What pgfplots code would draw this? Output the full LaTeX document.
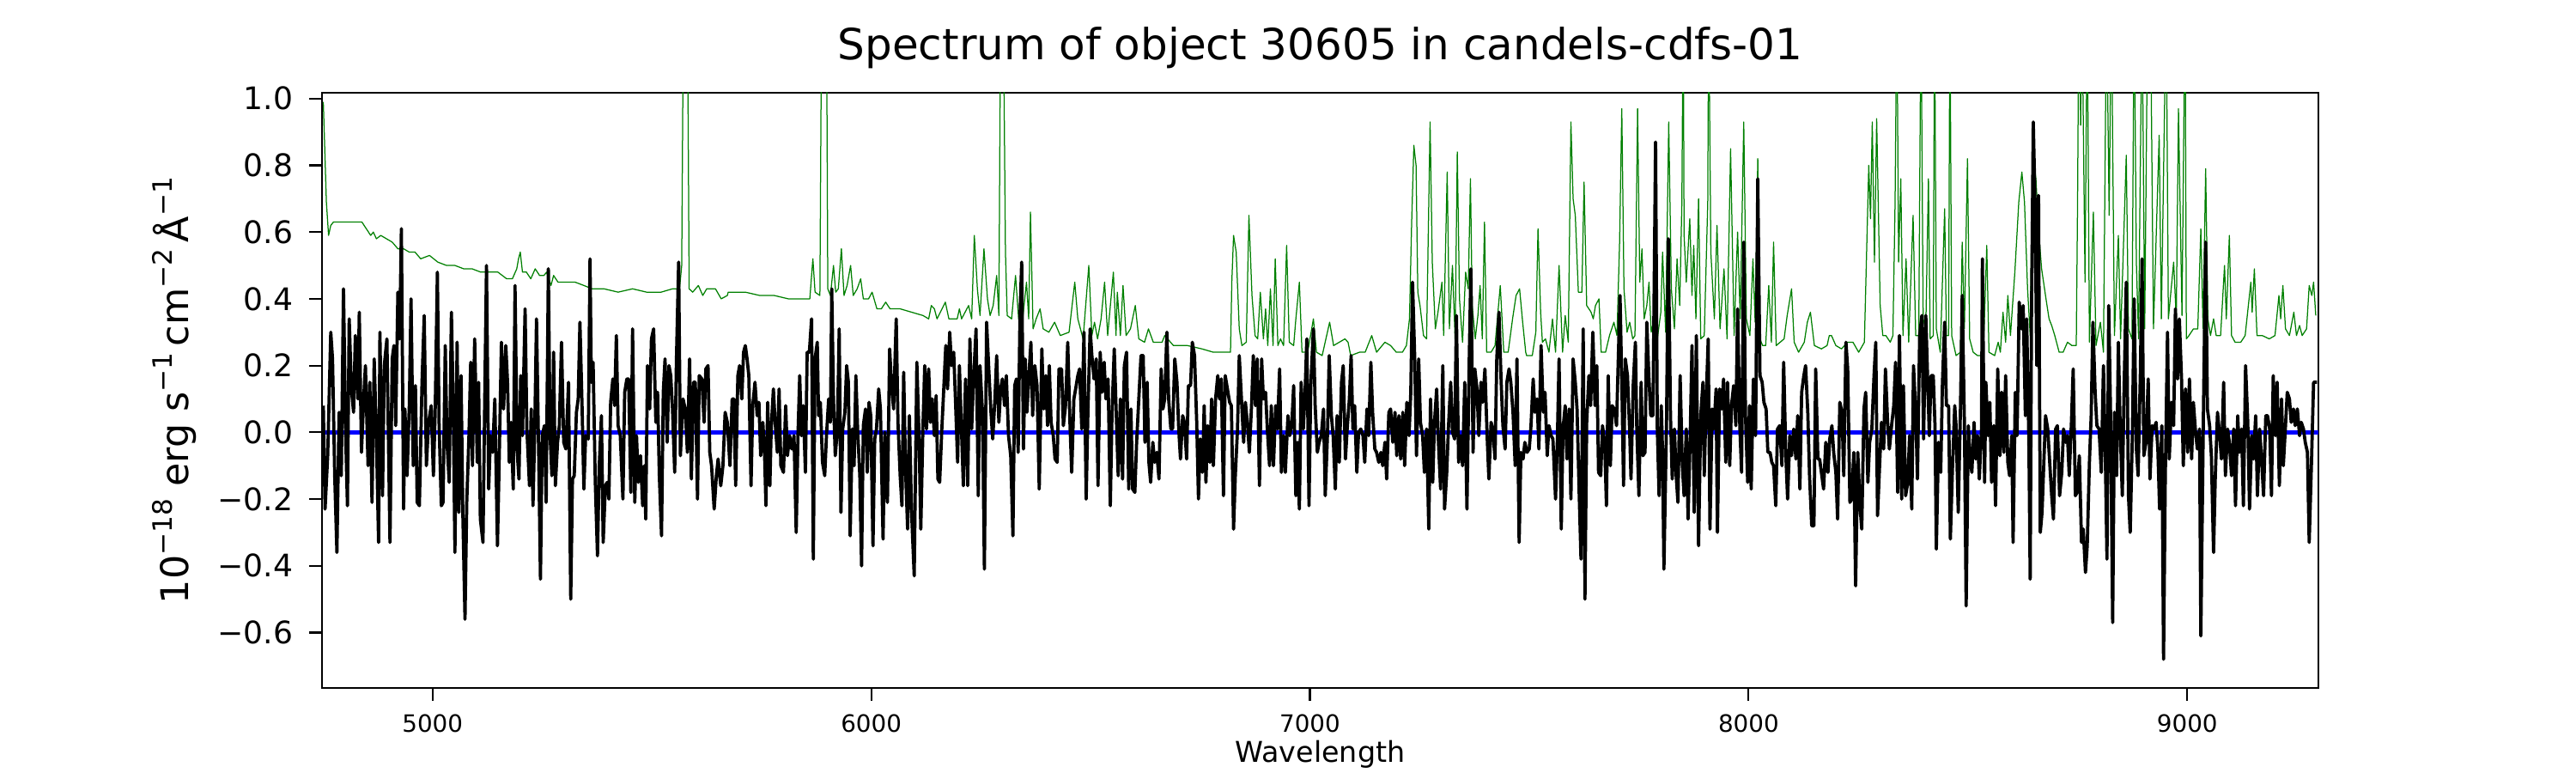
\documentclass[border=0pt]{standalone}
\usepackage{fontspec}
\setmainfont{DejaVu Sans}
\usepackage{pgfplots}
\usepackage{pgfplotstable}
\pgfplotsset{compat=1.18}
\definecolor{mplgreen}{RGB}{0,128,0}
\definecolor{mplblue}{RGB}{0,0,255}
\newcommand\sups[1]{\raisebox{0.42em}{\fontsize{11.2}{13}\selectfont #1}}
\pgfplotstableread{
x y
4751 0.08
4755 -0.23
4761 -0.07
4768 0.30
4772 0.22
4777 -0.13
4782 -0.36
4787 0.06
4792 -0.13
4797 0.43
4802 -0.01
4806 -0.22
4810 0.34
4815 0.13
4820 0.06
4824 0.29
4830 0.10
4833 0.36
4838 -0.06
4843 0.10
4847 0.20
4853 -0.10
4857 0.15
4862 -0.21
4867 0.22
4872 -0.01
4877 -0.33
4880 0.30
4886 -0.19
4890 0.20
4896 0.28
4903 -0.33
4908 0.22
4912 0.26
4916 0.02
4921 0.42
4925 0.28
4929 0.61
4934 -0.23
4937 0.07
4942 -0.13
4947 0.08
4951 0.40
4956 -0.10
4961 0.14
4965 -0.21
4970 -0.22
4976 0.15
4981 0.35
4986 -0.10
4991 0.03
4997 0.08
5002 -0.13
5006 0.06
5011 0.48
5015 0.02
5020 -0.22
5024 -0.21
5029 0.26
5033 -0.03
5038 -0.15
5043 0.36
5047 0.10
5051 -0.36
5056 0.27
5060 -0.24
5065 0.17
5069 -0.24
5074 -0.56
5078 -0.21
5083 -0.01
5087 0.21
5091 -0.10
5096 0.28
5102 -0.09
5105 0.15
5109 -0.26
5115 -0.33
5119 0.10
5123 0.50
5128 -0.17
5132 -0.01
5137 -0.06
5142 0.10
5148 -0.34
5152 -0.08
5157 0.27
5162 0.07
5167 0.26
5171 0.15
5175 -0.09
5179 0.03
5184 -0.17
5188 0.44
5193 -0.06
5197 -0.14
5201 0.17
5205 -0.01
5211 0.37
5215 0.01
5221 -0.16
5225 0.07
5229 -0.22
5233 0.01
5237 0.34
5242 -0.07
5246 -0.44
5250 -0.01
5255 0.02
5259 -0.21
5264 0.49
5268 -0.01
5272 -0.13
5276 0.24
5280 -0.16
5285 -0.03
5289 0.02
5294 0.27
5299 -0.03
5304 -0.05
5310 0.15
5315 -0.50
5319 -0.14
5323 -0.13
5328 0.06
5332 0.10
5336 0.33
5341 0.07
5345 -0.17
5349 -0.01
5355 -0.02
5359 0.52
5362 0.15
5366 0.21
5371 -0.15
5376 -0.37
5380 -0.10
5385 0.05
5389 -0.33
5394 -0.16
5398 -0.15
5402 -0.20
5406 0.09
5411 0.16
5415 0.08
5419 0.29
5423 0.02
5428 -0.01
5434 -0.20
5438 0.12
5443 0.16
5447 0.16
5452 -0.18
5456 0.31
5461 -0.21
5465 -0.01
5469 -0.15
5474 -0.07
5479 -0.22
5483 -0.10
5486 -0.26
5490 0.20
5495 0.07
5499 0.28
5504 0.31
5509 0.03
5513 0.12
5517 -0.13
5522 -0.31
5526 0.12
5530 0.22
5535 -0.03
5539 0.20
5543 0.17
5547 0.07
5552 -0.12
5556 0.22
5561 0.51
5565 -0.07
5571 0.10
5576 0.07
5581 -0.06
5586 0.22
5590 -0.14
5595 0.15
5599 0.15
5604 -0.20
5608 0.17
5614 0.16
5619 0.03
5623 0.19
5628 0.20
5632 -0.06
5636 -0.10
5642 -0.23
5647 -0.13
5651 -0.08
5657 -0.16
5662 -0.10
5667 0.06
5672 0.03
5678 -0.10
5683 0.10
5687 0.10
5691 -0.16
5696 0.17
5700 0.20
5705 0.10
5709 0.24
5713 0.26
5717 0.22
5721 0.17
5726 -0.16
5730 0.08
5735 0.15
5740 0.05
5744 0.09
5748 -0.07
5753 0.03
5757 -0.07
5760 -0.22
5764 0.09
5769 -0.16
5772 0.01
5777 0.13
5781 0.03
5786 -0.06
5790 0.13
5794 -0.10
5800 -0.12
5805 0.08
5809 -0.07
5814 -0.01
5819 -0.05
5824 -0.01
5829 -0.30
5833 -0.01
5837 0.17
5841 -0.01
5845 0.08
5850 -0.12
5854 0.24
5859 0.24
5864 0.34
5868 -0.38
5872 0.22
5877 0.27
5880 0.05
5884 0.09
5889 -0.09
5894 -0.13
5898 -0.01
5903 0.10
5907 0.03
5910 0.43
5914 0.10
5918 -0.07
5923 0.01
5927 0.31
5931 -0.24
5935 0.01
5940 0.06
5944 0.20
5948 0.15
5952 -0.31
5957 0.01
5961 -0.10
5965 0.17
5969 0.01
5974 -0.13
5978 -0.40
5982 0.02
5987 0.07
5991 -0.12
5995 0.09
5999 0.05
6004 -0.34
6008 -0.02
6012 0.01
6017 0.13
6021 0.07
6027 -0.32
6031 0.00
6037 -0.21
6042 0.25
6046 0.15
6051 0.07
6057 0.34
6061 0.03
6066 -0.13
6070 -0.22
6074 0.18
6078 -0.10
6083 -0.29
6087 0.05
6092 -0.24
6098 -0.43
6104 0.21
6109 -0.01
6113 -0.29
6118 0.02
6122 0.20
6126 0.01
6131 0.19
6135 0.03
6139 0.10
6144 -0.01
6148 0.11
6152 -0.14
6156 -0.15
6161 0.01
6165 0.12
6170 0.26
6174 0.13
6179 0.30
6183 0.20
6188 0.24
6192 0.10
6197 -0.09
6201 0.20
6206 0.00
6210 -0.16
6215 0.16
6220 -0.16
6225 0.28
6229 0.01
6233 0.15
6239 0.31
6244 -0.19
6248 0.20
6254 0.05
6258 -0.41
6263 0.33
6268 0.19
6273 0.06
6277 -0.02
6282 0.10
6286 0.23
6291 0.03
6295 0.13
6299 0.16
6304 0.08
6308 0.17
6313 -0.01
6318 -0.07
6323 -0.31
6327 0.14
6331 0.16
6335 -0.06
6339 0.34
6343 0.51
6347 -0.05
6351 0.22
6355 0.06
6359 0.16
6364 0.27
6368 0.05
6373 0.20
6378 0.14
6383 -0.17
6389 0.25
6393 0.07
6398 0.17
6402 0.02
6406 0.20
6410 0.03
6415 -0.01
6419 -0.08
6424 -0.09
6428 0.19
6434 0.19
6438 0.02
6443 0.08
6448 0.27
6453 0.03
6457 -0.12
6462 0.10
6466 0.13
6471 0.17
6475 0.19
6480 0.01
6485 0.30
6490 -0.20
6494 0.06
6499 0.31
6503 0.23
6508 0.16
6513 0.22
6517 -0.16
6522 0.24
6526 0.12
6531 0.21
6535 0.10
6540 0.16
6545 -0.22
6549 0.06
6554 0.25
6558 0.08
6563 -0.13
6568 0.10
6573 -0.14
6577 0.20
6582 0.24
6587 -0.17
6592 0.07
6596 -0.17
6601 -0.18
6605 -0.03
6610 0.10
6615 0.23
6620 0.23
6624 -0.03
6629 0.15
6633 -0.09
6637 -0.15
6642 -0.03
6646 -0.09
6651 -0.06
6656 -0.14
6661 0.19
6665 0.07
6669 0.10
6674 0.30
6678 0.10
6683 0.01
6687 0.01
6692 0.22
6697 0.15
6701 0.01
6705 -0.08
6710 0.05
6714 0.03
6719 -0.08
6723 0.14
6728 0.14
6732 0.27
6737 0.23
6742 0.03
6746 -0.20
6750 -0.02
6755 -0.12
6759 0.08
6763 -0.15
6767 0.02
6772 -0.09
6776 0.10
6780 -0.10
6785 0.10
6790 0.17
6794 0.10
6798 0.16
6803 -0.19
6807 0.17
6812 0.13
6817 0.09
6821 0.08
6826 -0.29
6830 -0.13
6835 0.01
6839 0.23
6844 0.10
6849 -0.03
6853 0.09
6858 0.02
6862 -0.06
6867 0.08
6871 0.23
6876 0.08
6880 0.22
6885 -0.16
6890 0.22
6894 0.10
6899 0.12
6903 0.01
6908 -0.10
6912 0.08
6917 -0.10
6922 0.08
6926 0.01
6931 0.19
6935 -0.12
6940 -0.01
6944 -0.12
6950 0.05
6954 -0.01
6959 0.03
6963 0.14
6968 -0.19
6972 -0.03
6976 -0.23
6980 0.15
6985 0.01
6989 0.12
6993 0.28
6998 -0.22
7002 0.14
7008 0.31
7012 0.08
7017 -0.06
7021 -0.03
7026 -0.01
7031 0.07
7035 -0.19
7040 -0.01
7044 0.23
7049 0.05
7053 -0.01
7058 -0.17
7062 0.05
7067 -0.09
7072 0.15
7076 0.20
7081 -0.08
7085 0.01
7090 0.10
7094 0.23
7098 0.01
7102 0.08
7107 -0.12
7111 0.00
7116 0.01
7121 -0.01
7125 -0.09
7130 0.07
7134 -0.01
7139 0.21
7143 0.06
7148 -0.05
7152 -0.06
7157 -0.09
7162 -0.06
7166 -0.10
7171 -0.03
7175 -0.14
7180 0.06
7184 0.07
7189 -0.03
7194 0.06
7198 -0.07
7203 0.05
7207 -0.08
7212 0.06
7216 -0.10
7221 0.09
7226 -0.01
7230 0.12
7234 0.45
7239 0.22
7243 -0.07
7248 0.22
7252 0.03
7257 -0.01
7261 -0.12
7266 0.01
7271 -0.29
7275 0.10
7280 -0.15
7284 0.03
7289 0.13
7293 -0.03
7298 -0.17
7303 0.20
7307 -0.23
7312 -0.12
7316 0.02
7321 0.15
7325 0.00
7330 -0.02
7334 0.35
7339 -0.09
7344 -0.01
7348 -0.10
7353 0.15
7358 -0.23
7363 0.20
7367 0.49
7372 -0.06
7376 0.19
7381 0.13
7385 -0.01
7390 0.15
7394 0.09
7399 0.19
7404 -0.01
7408 -0.14
7413 0.03
7417 0.01
7422 -0.08
7426 0.22
7431 0.36
7436 0.15
7440 0.02
7445 -0.05
7449 0.15
7454 0.19
7458 0.15
7463 0.06
7468 -0.10
7472 0.22
7477 -0.33
7481 -0.06
7486 -0.08
7490 -0.03
7495 -0.06
7500 -0.05
7504 0.02
7509 0.16
7513 0.06
7518 0.10
7522 -0.05
7527 0.26
7532 0.06
7536 0.12
7541 -0.07
7545 0.02
7550 -0.01
7554 -0.02
7560 -0.20
7564 -0.03
7568 0.22
7573 -0.29
7577 0.01
7582 0.08
7586 -0.08
7591 0.07
7595 -0.20
7600 0.22
7605 0.15
7609 0.07
7614 -0.19
7618 -0.38
7623 0.31
7627 -0.50
7631 0.03
7636 0.17
7640 0.08
7645 0.30
7650 0.08
7654 0.20
7658 -0.12
7663 -0.13
7667 0.02
7672 -0.03
7676 -0.22
7680 0.17
7685 -0.10
7689 0.08
7694 0.07
7699 0.02
7703 0.22
7707 0.41
7712 0.08
7715 -0.16
7719 0.22
7724 0.17
7729 0.00
7732 -0.14
7737 0.14
7742 0.27
7745 0.02
7750 -0.19
7755 0.15
7759 -0.07
7764 -0.06
7768 0.33
7773 0.16
7777 0.05
7782 0.05
7788 0.87
7792 0.01
7796 -0.19
7801 0.08
7804 -0.06
7807 -0.41
7813 0.03
7817 0.58
7822 0.05
7826 -0.14
7831 0.01
7835 -0.13
7839 -0.21
7844 0.17
7849 -0.10
7853 -0.19
7858 0.01
7862 -0.26
7867 -0.01
7871 0.26
7876 -0.24
7881 0.29
7886 -0.34
7891 0.05
7896 0.15
7899 -0.13
7903 0.08
7908 0.28
7912 -0.29
7917 0.07
7921 0.01
7926 0.13
7929 -0.30
7934 0.13
7939 0.07
7943 0.16
7948 -0.09
7952 0.15
7957 -0.10
7961 0.08
7966 0.14
7971 0.02
7975 0.37
7980 0.02
7984 -0.12
7989 0.57
7993 0.05
7998 -0.15
8002 0.08
8006 -0.17
8011 0.16
8016 -0.01
8021 0.76
8026 0.17
8031 0.15
8035 0.09
8040 0.07
8044 -0.06
8049 -0.06
8053 -0.09
8057 -0.10
8062 -0.22
8066 0.01
8071 0.02
8076 -0.10
8080 0.21
8085 -0.07
8089 -0.20
8094 -0.01
8098 -0.07
8103 0.01
8108 -0.08
8112 0.05
8117 -0.17
8121 0.12
8126 0.17
8130 0.20
8135 0.06
8139 -0.13
8144 -0.28
8149 -0.28
8153 0.19
8158 -0.08
8162 -0.08
8167 -0.13
8171 -0.17
8176 -0.03
8181 -0.12
8185 -0.02
8190 0.02
8194 -0.06
8199 -0.12
8203 -0.26
8208 0.09
8213 0.06
8217 -0.13
8222 0.27
8226 0.19
8231 -0.21
8235 -0.20
8240 -0.06
8244 -0.46
8249 -0.06
8254 -0.22
8258 -0.29
8263 0.07
8267 0.12
8272 -0.15
8276 -0.03
8281 0.01
8286 0.17
8290 0.27
8294 -0.25
8299 -0.09
8303 0.03
8308 -0.05
8312 0.19
8317 0.03
8321 -0.05
8326 0.02
8331 0.08
8335 0.21
8340 -0.18
8344 0.29
8349 -0.20
8353 0.14
8358 -0.19
8363 -0.15
8367 -0.01
8372 -0.23
8376 0.20
8381 0.06
8385 -0.14
8390 0.29
8395 0.35
8399 -0.02
8404 0.35
8412 -0.01
8416 0.17
8421 0.17
8425 0.02
8428 -0.35
8433 -0.03
8438 -0.12
8442 0.15
8447 0.33
8451 0.08
8456 0.08
8460 -0.32
8465 -0.10
8470 0.08
8473 0.02
8478 -0.24
8483 0.07
8487 0.41
8492 0.03
8496 -0.52
8501 0.02
8505 -0.08
8509 -0.12
8514 0.03
8518 -0.08
8522 -0.01
8526 -0.14
8531 0.01
8533 0.52
8538 -0.15
8541 0.15
8546 -0.01
8550 0.09
8554 -0.15
8559 0.02
8563 -0.22
8568 0.19
8573 -0.07
8577 0.12
8582 -0.06
8586 0.17
8591 -0.09
8595 -0.13
8600 -0.01
8603 -0.33
8608 0.12
8612 -0.01
8617 0.39
8622 0.31
8626 0.38
8631 0.05
8634 0.34
8639 -0.03
8642 -0.44
8645 0.36
8649 0.93
8653 0.69
8657 0.20
8661 0.71
8665 -0.30
8669 -0.24
8672 -0.13
8677 0.05
8682 0.01
8686 -0.08
8691 -0.19
8695 -0.26
8700 0.01
8704 0.02
8709 -0.19
8714 -0.12
8718 0.01
8723 -0.03
8727 -0.01
8731 -0.13
8736 0.03
8740 0.19
8745 -0.19
8749 -0.18
8754 -0.07
8759 -0.33
8763 -0.29
8768 -0.42
8772 -0.34
8777 -0.09
8781 0.05
8785 0.33
8790 0.12
8794 0.02
8799 0.01
8804 -0.12
8809 0.20
8813 -0.05
8817 -0.38
8821 0.38
8825 0.07
8830 -0.57
8834 0.06
8839 -0.13
8843 0.27
8847 0.02
8852 -0.19
8856 0.13
8861 0.45
8866 -0.19
8870 -0.30
8875 0.00
8879 0.40
8884 -0.05
8888 -0.13
8893 0.17
8897 0.52
8901 -0.07
8906 -0.03
8911 0.16
8915 -0.14
8920 0.02
8924 0.01
8929 0.03
8933 -0.05
8937 -0.23
8942 0.02
8946 -0.68
8950 -0.13
8955 0.30
8959 -0.08
8964 0.09
8969 0.02
8973 0.37
8978 0.16
8982 0.34
8987 0.16
8991 -0.10
8996 0.13
9001 -0.06
9005 0.16
9010 -0.08
9014 0.09
9019 0.00
9023 -0.05
9028 0.01
9031 -0.61
9037 0.07
9042 0.57
9046 0.07
9051 0.02
9055 -0.07
9060 -0.36
9064 -0.13
9069 0.06
9074 -0.01
9078 -0.08
9083 0.15
9087 -0.13
9092 0.01
9096 -0.03
9101 -0.13
9106 0.01
9110 -0.22
9115 0.05
9119 -0.06
9124 0.01
9128 -0.22
9133 0.20
9138 0.03
9142 -0.23
9147 -0.01
9151 -0.08
9156 0.05
9160 -0.19
9165 0.01
9169 -0.07
9174 -0.19
9179 0.05
9183 0.05
9188 0.01
9192 -0.19
9196 0.17
9201 -0.01
9205 0.15
9210 -0.16
9215 0.10
9219 -0.10
9224 0.02
9228 0.12
9233 0.10
9237 0.03
9242 0.07
9246 0.02
9251 0.07
9256 -0.01
9260 0.03
9265 0.01
9269 -0.03
9274 -0.06
9278 -0.33
9283 -0.10
9288 0.15
9292 0.15
9296 0.15
}\spectab
\pgfplotstableread{
x y
4751 0.99
4758 0.69
4763 0.59
4768 0.62
4774 0.63
4790 0.63
4803 0.63
4817 0.63
4830 0.63
4839 0.63
4849 0.61
4859 0.59
4865 0.60
4872 0.58
4882 0.59
4895 0.58
4908 0.57
4921 0.55
4934 0.55
4947 0.54
4960 0.54
4973 0.52
4993 0.53
5012 0.51
5032 0.50
5051 0.50
5071 0.49
5090 0.49
5110 0.48
5130 0.48
5149 0.48
5169 0.46
5182 0.46
5192 0.49
5196 0.52
5200 0.54
5205 0.48
5214 0.48
5224 0.46
5234 0.49
5244 0.47
5254 0.47
5260 0.48
5270 0.44
5276 0.47
5286 0.45
5306 0.45
5325 0.45
5345 0.44
5364 0.43
5391 0.43
5423 0.42
5456 0.43
5488 0.42
5521 0.42
5547 0.43
5563 0.43
5568 0.50
5572 1.30
5581 1.30
5585 0.43
5593 0.42
5606 0.44
5616 0.41
5625 0.43
5645 0.43
5658 0.40
5672 0.41
5674 0.42
5713 0.42
5746 0.41
5779 0.41
5811 0.40
5844 0.40
5860 0.40
5867 0.52
5872 0.42
5883 0.41
5887 1.30
5898 1.30
5901 0.43
5907 0.41
5914 0.50
5919 0.42
5925 0.43
5932 0.55
5938 0.41
5945 0.44
5953 0.50
5959 0.41
5968 0.43
5976 0.46
5982 0.40
5994 0.40
6002 0.42
6013 0.37
6023 0.37
6033 0.39
6043 0.37
6066 0.37
6092 0.36
6118 0.35
6131 0.34
6137 0.38
6144 0.37
6150 0.34
6169 0.39
6177 0.34
6196 0.34
6201 0.37
6206 0.34
6222 0.38
6229 0.34
6235 0.59
6242 0.43
6248 0.35
6257 0.55
6265 0.40
6271 0.35
6278 0.38
6286 0.47
6291 0.35
6295 1.30
6301 1.30
6306 0.54
6310 0.35
6320 0.34
6329 0.47
6336 0.34
6346 0.35
6354 0.45
6359 0.34
6363 0.66
6369 0.31
6376 0.34
6385 0.37
6392 0.31
6405 0.30
6418 0.33
6431 0.29
6451 0.30
6464 0.45
6471 0.34
6483 0.28
6496 0.50
6503 0.29
6509 0.33
6516 0.28
6524 0.34
6532 0.45
6539 0.29
6552 0.48
6558 0.29
6561 0.42
6568 0.29
6574 0.44
6581 0.29
6591 0.31
6602 0.38
6610 0.28
6623 0.27
6632 0.31
6643 0.27
6663 0.27
6669 0.29
6689 0.26
6721 0.26
6754 0.25
6780 0.24
6793 0.24
6819 0.24
6822 0.45
6826 0.59
6832 0.54
6839 0.31
6845 0.26
6855 0.27
6861 0.65
6868 0.41
6875 0.29
6881 0.28
6887 0.42
6894 0.28
6899 0.37
6904 0.26
6910 0.43
6916 0.26
6921 0.52
6927 0.26
6933 0.28
6940 0.26
6947 0.56
6953 0.27
6963 0.26
6968 0.34
6976 0.45
6982 0.24
6995 0.24
7008 0.34
7015 0.24
7028 0.23
7045 0.33
7054 0.26
7067 0.27
7080 0.28
7087 0.27
7093 0.23
7113 0.24
7126 0.24
7141 0.29
7152 0.24
7171 0.27
7184 0.26
7197 0.24
7211 0.24
7220 0.26
7227 0.34
7232 0.63
7237 0.86
7242 0.80
7246 0.42
7251 0.38
7259 0.29
7266 0.28
7274 0.93
7279 0.51
7286 0.31
7292 0.36
7301 0.45
7305 0.29
7313 0.78
7318 0.31
7325 0.50
7331 0.28
7336 0.84
7341 0.40
7348 0.27
7355 0.48
7361 0.43
7366 0.76
7370 0.38
7377 0.28
7383 0.35
7388 0.44
7393 0.28
7398 0.63
7403 0.24
7413 0.24
7422 0.26
7434 0.44
7442 0.24
7452 0.24
7462 0.34
7470 0.41
7478 0.43
7485 0.33
7492 0.24
7494 0.23
7507 0.23
7515 0.30
7520 0.61
7526 0.36
7530 0.27
7537 0.28
7545 0.24
7553 0.34
7560 0.24
7568 0.50
7576 0.24
7582 0.35
7589 0.27
7595 0.93
7600 0.70
7605 0.65
7612 0.42
7620 0.42
7625 0.75
7631 0.38
7641 0.36
7646 0.34
7651 0.38
7659 0.40
7664 0.24
7674 0.24
7683 0.29
7693 0.33
7700 0.29
7706 0.57
7711 0.97
7716 0.43
7723 0.30
7729 0.33
7736 0.28
7741 0.29
7747 0.97
7752 0.45
7757 0.55
7762 0.34
7768 0.38
7773 0.45
7778 0.30
7785 0.34
7792 0.28
7800 0.36
7804 0.54
7811 0.30
7818 0.93
7824 0.43
7831 0.31
7837 0.52
7843 0.38
7848 0.69
7851 1.30
7853 0.59
7858 0.45
7866 0.64
7871 0.41
7875 0.56
7880 0.34
7886 0.70
7891 0.28
7899 0.29
7907 0.69
7909 1.30
7914 0.54
7922 0.34
7928 0.62
7935 0.31
7944 0.49
7951 0.28
7959 0.85
7967 0.29
7975 0.60
7981 0.34
7989 0.93
7995 0.34
8003 0.29
8010 0.52
8015 0.33
8021 0.82
8026 0.28
8032 0.26
8039 0.26
8046 0.44
8052 0.27
8057 0.57
8063 0.26
8072 0.27
8081 0.28
8088 0.35
8098 0.43
8104 0.27
8114 0.24
8127 0.27
8134 0.33
8141 0.36
8150 0.26
8166 0.25
8179 0.26
8184 0.29
8189 0.29
8199 0.26
8212 0.25
8225 0.27
8238 0.27
8251 0.24
8264 0.27
8274 0.80
8278 0.64
8282 0.93
8287 0.51
8292 0.94
8300 0.38
8306 0.29
8313 0.29
8323 0.27
8329 0.29
8334 0.69
8338 1.30
8342 0.51
8347 0.76
8352 0.29
8359 0.52
8365 0.27
8375 0.65
8381 0.29
8388 0.29
8393 1.30
8398 0.34
8404 0.31
8410 0.76
8414 0.28
8421 0.29
8424 1.30
8428 0.31
8437 0.24
8447 0.67
8451 0.29
8456 0.29
8459 1.30
8463 0.29
8473 0.23
8483 0.24
8487 0.57
8492 0.31
8499 0.82
8504 0.28
8512 0.24
8522 0.23
8535 0.23
8543 0.56
8548 0.24
8561 0.23
8569 0.27
8574 0.24
8580 0.36
8586 0.27
8591 0.41
8597 0.29
8607 0.48
8616 0.69
8623 0.78
8629 0.69
8636 0.43
8642 0.29
8646 0.69
8649 0.83
8655 0.76
8662 0.59
8668 0.49
8678 0.40
8685 0.34
8691 0.32
8698 0.29
8708 0.24
8717 0.24
8727 0.27
8737 0.26
8747 0.26
8750 0.69
8753 1.30
8757 0.92
8760 1.30
8767 0.45
8772 1.30
8777 0.27
8786 0.66
8792 0.26
8802 0.33
8809 0.24
8816 1.30
8822 0.65
8827 1.30
8834 0.29
8843 0.59
8848 0.28
8861 0.83
8866 0.31
8874 0.28
8879 1.30
8884 0.51
8889 0.28
8897 1.30
8903 0.31
8910 1.30
8916 1.30
8923 0.31
8936 0.89
8941 0.34
8952 1.30
8957 0.34
8969 0.51
8975 0.34
8980 0.97
8988 0.35
8995 1.30
8998 0.28
9004 0.29
9014 0.31
9024 0.31
9031 0.61
9036 0.31
9042 0.79
9047 0.34
9053 0.29
9060 0.34
9066 0.29
9076 0.29
9085 0.50
9089 0.34
9096 0.59
9101 0.29
9109 0.27
9122 0.27
9132 0.29
9145 0.45
9148 0.36
9153 0.49
9159 0.29
9171 0.29
9187 0.28
9200 0.29
9209 0.41
9213 0.34
9218 0.44
9224 0.31
9233 0.29
9243 0.36
9249 0.29
9256 0.32
9262 0.29
9272 0.31
9278 0.44
9284 0.41
9288 0.45
9293 0.35
}\skytab
\begin{document}
\begin{tikzpicture}
\path[use as bounding box] (-135pt,-35.64pt) rectangle (945pt,288.36pt);
\begin{axis}[
  at={(0,0)}, anchor=south west,
  scale only axis, width=837pt, height=249.48pt,
  xmin=4748, xmax=9299, ymin=-0.766, ymax=1.0175,
  axis line style={line width=0.8pt, black},
  tick align=outside, major tick length=5.4pt,
  tick style={line width=0.8pt, black},
  xtick pos=bottom, ytick pos=left,
  xtick={5000,6000,7000,8000,9000},
  xticklabels={5000,6000,7000,8000,9000},
  ytick={-0.6,-0.4,-0.2,0,0.2,0.4,0.6,0.8,1.0},
  yticklabels={−0.6,−0.4,−0.2,0.0,0.2,0.4,0.6,0.8,1.0},
  xticklabel style={font=\fontsize{10}{12}\selectfont, anchor=base, inner sep=0pt, yshift=-13.3pt},
  yticklabel style={font=\fontsize{13}{15}\selectfont, anchor=east, inner sep=0pt, xshift=-6.5pt},
  title={Spectrum of object 30605 in candels-cdfs-01},
  title style={font=\fontsize{18}{21}\selectfont, at={(0.5,1)}, anchor=base, yshift=7.7pt, inner sep=0pt},
  xlabel={Wavelength},
  xlabel style={font=\fontsize{12}{14}\selectfont, at={(axis description cs:0.5,0)}, anchor=base, yshift=-31pt, inner sep=0pt},
  ylabel={10\sups{−18} erg s\sups{−1}\,cm\sups{−2}\,Å\sups{−1}},
  ylabel style={font=\fontsize{16}{19}\selectfont, at={([xshift=-56pt]axis description cs:0,0.5)}, anchor=base, inner sep=0pt},
  clip=true,
]
\addplot[mplblue, line width=1.8pt] coordinates {(4748,0) (9299,0)};
\addplot[mplgreen, line width=0.45pt, line join=round] table[x=x,y=y] {\skytab};
\addplot[black, line width=1.35pt, line join=round] table[x=x,y=y] {\spectab};
\end{axis}
\end{tikzpicture}
\end{document}
